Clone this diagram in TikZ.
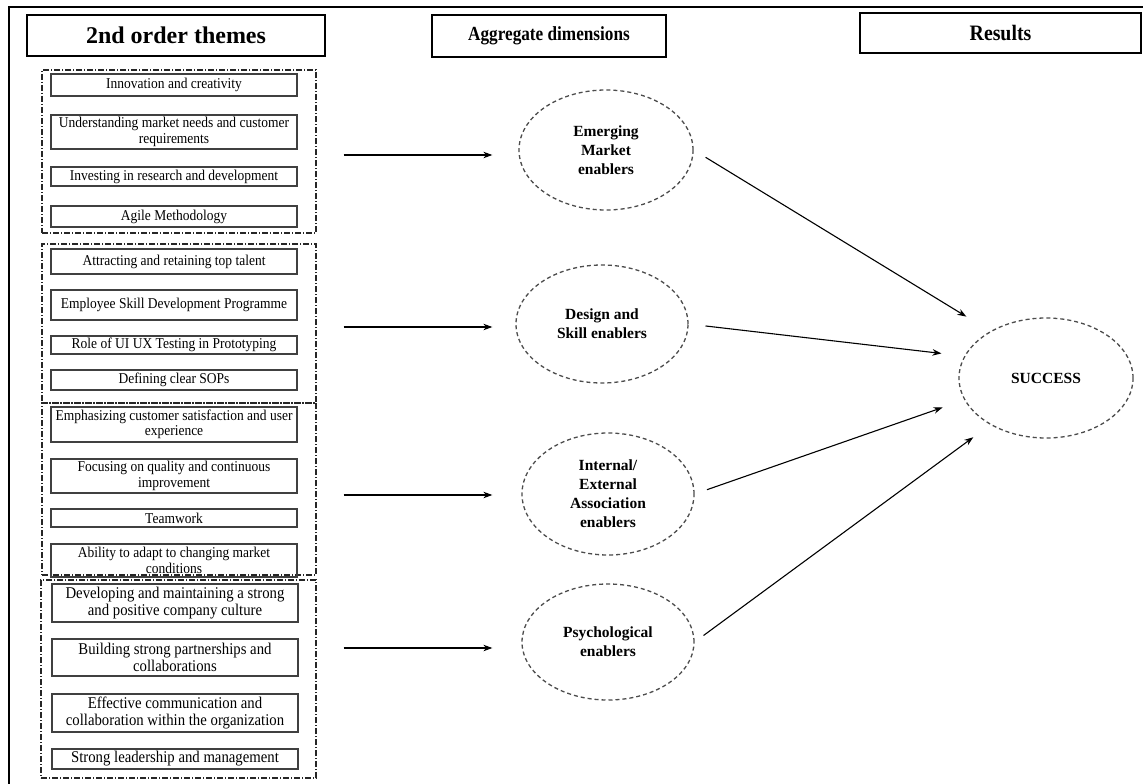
\documentclass[tikz,border=0pt]{standalone}
\usepackage{fontspec}
\usepackage{graphicx}
\setmainfont{Liberation Serif}
\newfontfamily\boxfont[FakeStretch=0.9]{Liberation Serif}
\usetikzlibrary{arrows.meta,shapes.geometric}
\begin{document}
\begin{tikzpicture}[x=1pt,y=-1pt,
 tbox/.style={draw=black!75,line width=1.2pt,minimum width=246pt,inner sep=0pt,align=center,font=\boxfont\fontsize{15}{15.5}\selectfont},
 tboxb/.style={tbox,font=\boxfont\fontsize{16.4}{17}\selectfont},
 grp/.style={draw=black!85,line width=1.1pt,dash pattern=on 6pt off 2pt on 1pt off 2pt,inner sep=0pt},
 hdr/.style={draw=black,line width=1.2pt,inner sep=0pt},
 ell/.style={ellipse,draw=black!70,line width=1.3pt,dash pattern=on 4pt off 3pt,inner sep=0pt,align=center,font=\bfseries\fontsize{15.5}{19}\selectfont},
 arr/.style={line width=1.1pt,-{Stealth[length=9pt,width=6.5pt]}}]
\useasboundingbox (0,0) rectangle (1143,784);
\fill[white] (0,0) rectangle (1143,784);
% outer frame
\draw[line width=2pt] (9,800) -- (9,7) -- (1160,7);
% headers
\node[hdr,minimum width=298pt,minimum height=41pt] (h1) at (176,35.5) {\bfseries\fontsize{24}{26}\selectfont 2nd order themes};
\node[hdr,minimum width=234pt,minimum height=42pt] (h2) at (549,36) {\scalebox{0.86}[1]{\bfseries\fontsize{20}{24}\selectfont Aggregate dimensions}};
\node[hdr,minimum width=281pt,minimum height=40pt] (h3) at (1000.5,33) {\scalebox{0.9}[1]{\bfseries\fontsize{22}{24}\selectfont Results}};
% groups
\node[grp,minimum width=274pt,minimum height=163pt] (g1) at (179,151.5) {};
\node[grp,minimum width=274pt,minimum height=159pt] (g2) at (179,323.5) {};
\node[grp,minimum width=274pt,minimum height=172pt] (g3) at (179,489) {};
\node[grp,minimum width=275pt,minimum height=198pt] (g4) at (178.5,679) {};
% group 1
\node[tbox,minimum height=22pt] (b11) at (174,85) {Innovation and creativity};
\node[tbox,minimum height=34pt] (b12) at (174,132) {Understanding market needs and customer\\requirements};
\node[tbox,minimum height=19pt] (b13) at (174,176.5) {Investing in research and development};
\node[tbox,minimum height=21pt] (b14) at (174,216.5) {Agile Methodology};
% group 2
\node[tbox,minimum height=25pt] (b21) at (174,261.5) {Attracting and retaining top talent};
\node[tbox,minimum height=30pt] (b22) at (174,305) {Employee Skill Development Programme};
\node[tbox,minimum height=18pt] (b23) at (174,345) {Role of UI UX Testing in Prototyping};
\node[tbox,minimum height=20pt] (b24) at (174,380) {Defining clear SOPs};
% group 3
\node[tbox,minimum height=35pt] (b31) at (174,424.5) {Emphasizing customer satisfaction and user\\experience};
\node[tbox,minimum height=34pt] (b32) at (174,476) {Focusing on quality and continuous\\improvement};
\node[tbox,minimum height=18pt] (b33) at (174,518) {Teamwork};
\node[tbox,minimum height=33pt] (b34) at (174,560.5) {Ability to adapt to changing market\\conditions};
% group 4
\node[tboxb,minimum height=38pt] (b41) at (175,603) {Developing and maintaining a strong\\and positive company culture};
\node[tboxb,minimum height=37pt] (b42) at (175,657.5) {Building strong partnerships and\\collaborations};
\node[tboxb,minimum height=38pt] (b43) at (175,713) {Effective communication and\\collaboration within the organization};
\node[tboxb,minimum height=20pt] (b44) at (175,759) {Strong leadership and management};
% ellipses
\node[ell,minimum width=174pt,minimum height=120pt] (e1) at (606,150) {Emerging\\Market\\enablers};
\node[ell,minimum width=172pt,minimum height=118pt] (e2) at (602,324) {Design and\\Skill enablers};
\node[ell,minimum width=172pt,minimum height=122pt] (e3) at (608,494) {Internal/\\External\\Association\\enablers};
\node[ell,minimum width=172pt,minimum height=116pt] (e4) at (608,642) {Psychological\\enablers};
\node[ell,minimum width=174pt,minimum height=120pt] (succ) at (1046,378) {SUCCESS};
% horizontal arrows
\coordinate (a1) at ([yshift=-5pt]e1.west);
\coordinate (a2) at ([yshift=-3pt]e2.west);
\coordinate (a3) at ([yshift=-1pt]e3.west);
\coordinate (a4) at ([yshift=-6pt]e4.west);
\draw[arr,shorten <=27pt,shorten >=26pt] (g1.east |- a1) -- (a1);
\draw[arr,shorten <=27pt,shorten >=23pt] (g2.east |- a2) -- (a2);
\draw[arr,shorten <=27pt,shorten >=29pt] (g3.east |- a3) -- (a3);
\draw[arr,shorten <=27pt,shorten >=29pt] (g4.east |- a4) -- (a4);
% diagonal arrows
\draw[arr,shorten <=14pt,shorten >=28pt] (e1.east) -- (succ.140);
\draw[arr,shorten <=17pt,shorten >=23pt] (e2.east) -- (succ.165);
\draw[arr,shorten <=13pt,shorten >=23pt] (e3.east) -- (succ.195);
\draw[arr,shorten <=11pt,shorten >=21pt] (e4.east) -- (succ.220);
\end{tikzpicture}
\end{document}
